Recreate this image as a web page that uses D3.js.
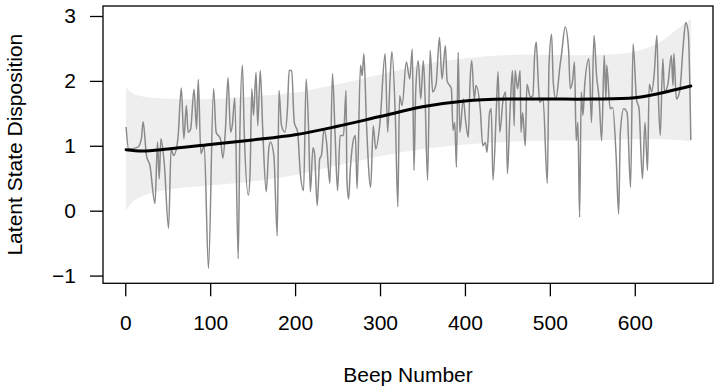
<!DOCTYPE html>
<html>
<head>
<meta charset="utf-8">
<script src="https://cdn.jsdelivr.net/npm/d3@7"></script>
<style>
  body { margin: 0; background: #fff; }
  svg { display: block; }
  text { font-family: "Liberation Sans", Arial, Helvetica, sans-serif; }
</style>
</head>
<body>
<div id="chart"></div>
<script>
// raw series (peaks and troughs of the beep series)
var beeps = [
    1, 4, 15, 19, 21, 25, 29, 35, 38, 40,
    42, 46, 51, 54, 57, 62, 66, 69, 72, 74,
    77, 81, 84, 86, 89, 93, 98, 104, 107, 112,
    115, 118, 121, 124, 126, 129, 133, 135, 138, 140,
    145, 147, 149, 151, 154, 156, 159, 162, 166, 169,
    171, 175, 179, 181, 184, 188, 191, 193, 196, 199,
    203, 206, 210, 213, 216, 218, 221, 223, 226, 229,
    231, 234, 237, 241, 244, 247, 250, 253, 257, 260,
    261, 263, 265, 269, 271, 273, 277, 279, 281, 284,
    289, 292, 295, 300, 306, 309, 312, 314, 318, 321,
    323, 326, 331, 335, 338, 340, 342, 345, 348, 351,
    353, 356, 359, 362, 366, 370, 373, 377, 379, 382,
    384, 386, 388, 390, 392, 394, 398, 401, 404, 406,
    408, 411, 413, 418, 421, 424, 426, 429, 431, 433,
    437, 439, 441, 445, 448, 450, 453, 456, 458, 459,
    462, 465, 466, 468, 471, 473, 477, 480, 482, 484,
    486, 488, 492, 497, 499, 502, 504, 507, 512, 514,
    518, 522, 524, 527, 529, 531, 533, 535, 537, 539,
    541, 546, 549, 552, 555, 558, 561, 564, 566, 567,
    571, 574, 578, 581, 583, 587, 591, 595, 598, 602,
    605, 609, 612, 615, 617, 620, 623, 626, 628, 630,
    633, 635, 639, 643, 645, 646, 649, 653, 657, 660, 663, 666
];
var states = [
    1.29, 0.95, 0.98, 1.11, 1.37, 0.85, 0.70, 0.11, 1.06, 0.49,
    1.11, 0.72, -0.27, 0.95, 0.85, 1.11, 1.89, 1.11, 1.62, 1.21,
    1.26, 1.87, 1.26, 2.02, 0.88, 1.00, -0.89, 1.88, 1.21, 1.11,
    0.81, 1.26, 2.05, 1.21, 1.31, 1.74, -0.74, 1.21, 2.24, 1.26,
    0.24, 0.59, 1.88, 1.47, 2.13, 1.31, 2.16, 1.21, 0.29, 0.95,
    1.06, 0.85, -0.39, 1.85, 1.31, 1.21, 1.57, 2.16, 2.16, 1.36,
    1.21, 0.60, 0.31, 2.03, 1.21, 0.29, 0.97, 0.87, 0.08, 0.80,
    0.85, 1.26, 1.06, 0.42, 2.11, 1.21, 0.31, 1.16, 1.16, 1.85,
    0.49, 0.18, 0.64, 1.11, 1.16, 0.34, 2.24, 2.08, 2.42, 1.36,
    0.36, 1.31, 0.95, 1.36, 2.42, 1.21, 2.08, 2.45, 1.47, 0.06,
    1.77, 1.62, 2.29, 2.03, 2.49, 0.62, 1.83, 2.31, 1.72, 2.31,
    1.77, 0.47, 2.47, 1.83, 1.95, 2.67, 2.03, 2.54, 2.00, 1.93,
    1.88, 1.24, 1.36, 0.67, 2.44, 1.21, 1.72, 1.36, 1.13, 1.98,
    2.31, 1.72, 1.93, 1.57, 1.00, 1.05, 0.90, 1.51, 1.57, 0.47,
    1.57, 2.14, 1.21, 1.72, 1.83, 0.57, 1.51, 2.16, 1.31, 2.16,
    1.88, 2.16, 1.21, 1.51, 1.00, 1.95, 1.75, 1.77, 2.39, 2.60,
    2.08, 1.67, 1.72, 0.42, 2.24, 2.72, 1.98, 1.72, 2.24, 2.44,
    2.83, 2.49, 1.88, 2.03, 2.29, 1.08, 1.36, -0.10, 1.83, 1.47,
    1.93, 2.34, 1.36, 2.70, 2.08, 1.72, 1.08, 2.39, 1.72, 2.24,
    1.57, 1.59, 0.85, -0.05, 1.21, 1.57, 1.51, 0.36, 2.57, 1.72,
    1.57, 0.49, 1.36, 0.62, 1.95, 1.83, 2.13, 2.70, 1.67, 1.16,
    2.34, 1.83, 1.95, 2.39, 1.93, 2.42, 1.72, 1.85, 2.54, 2.90, 2.74, 1.09
];

// smooth trend and its band
var trendBeeps = [1, 20, 50, 100, 150, 200, 250, 300, 350, 400, 450, 500, 550, 600, 630, 666];
var trendMean  = [0.94, 0.92, 0.95, 1.02, 1.09, 1.17, 1.30, 1.45, 1.60, 1.69, 1.72, 1.72, 1.72, 1.74, 1.81, 1.92];

var bandBeeps = [1, 10, 25, 60, 100, 150, 200, 250, 300, 350, 400, 450, 500, 550, 600, 630, 650, 666];
var bandUpper = [1.90, 1.80, 1.75, 1.72, 1.72, 1.76, 1.82, 1.95, 2.10, 2.25, 2.35, 2.40, 2.40, 2.40, 2.45, 2.60, 2.80, 2.95];
var bandLower = [0.00, 0.15, 0.25, 0.34, 0.39, 0.45, 0.55, 0.70, 0.84, 0.95, 1.02, 1.06, 1.08, 1.08, 1.10, 1.10, 1.09, 1.07];

var xTicks = [0, 100, 200, 300, 400, 500, 600];
var yTicks = [-1, 0, 1, 2, 3];

var width = 720, height = 391;
var box = {left: 103, right: 713, top: 6, bottom: 283.3};
var fontSize = 21;

var svg = d3.select("#chart").append("svg")
    .attr("width", width)
    .attr("height", height);

var x = d3.scaleLinear()
    .domain([-26.2, 692.1])
    .range([box.left, box.right]);

var y = d3.scaleLinear()
    .domain([-1.119, 3.154])
    .range([box.bottom, box.top]);

var series = beeps.map(function(b, i){ return [b, states[i]]; });
var band = bandBeeps.map(function(b, i){ return {b: b, lo: bandLower[i], hi: bandUpper[i]}; });
var trend = trendBeeps.map(function(b, i){ return [b, trendMean[i]]; });

// band
svg.append("path")
    .datum(band)
    .attr("fill", "#eeeeee")
    .attr("d", d3.area()
        .curve(d3.curveCatmullRom)
        .x(function(d){ return x(d.b); })
        .y0(function(d){ return y(d.lo); })
        .y1(function(d){ return y(d.hi); }));

// raw line
svg.append("path")
    .datum(series)
    .attr("fill", "none")
    .attr("stroke", "#8a8a8a")
    .attr("stroke-width", 1.5)
    .attr("stroke-linejoin", "round")
    .attr("d", d3.line()
        .curve(d3.curveMonotoneX)
        .x(function(d){ return x(d[0]); })
        .y(function(d){ return y(d[1]); }));

// trend
svg.append("path")
    .datum(trend)
    .attr("fill", "none")
    .attr("stroke", "#000")
    .attr("stroke-width", 3)
    .attr("stroke-linecap", "round")
    .attr("d", d3.line()
        .curve(d3.curveCatmullRom)
        .x(function(d){ return x(d[0]); })
        .y(function(d){ return y(d[1]); }));

// axes, R style: ticks outside, no extra domain line
var xAxis = svg.append("g")
    .attr("transform", "translate(0," + box.bottom + ")")
    .call(d3.axisBottom(x).tickValues(xTicks).tickSize(13).tickPadding(19).tickFormat(d3.format("d")));

var yAxis = svg.append("g")
    .attr("transform", "translate(" + box.left + ",0)")
    .call(d3.axisLeft(y).tickValues(yTicks).tickSize(13).tickPadding(14).tickFormat(d3.format("d")));

[xAxis, yAxis].forEach(function(g){
    g.select(".domain").remove();
    g.selectAll(".tick line").attr("stroke", "#000").attr("stroke-width", 1.3);
    g.selectAll(".tick text")
        .attr("fill", "#000")
        .style("font-size", fontSize + "px")
        .style("font-family", "'Liberation Sans', Arial, sans-serif");
});

// box
svg.append("rect")
    .attr("x", box.left)
    .attr("y", box.top)
    .attr("width", box.right - box.left)
    .attr("height", box.bottom - box.top)
    .attr("fill", "none")
    .attr("stroke", "#000")
    .attr("stroke-width", 1.3);

svg.append("text")
    .attr("x", (box.left + box.right) / 2)
    .attr("y", 382)
    .attr("text-anchor", "middle")
    .style("font-size", fontSize + "px")
    .text("Beep Number");

svg.append("text")
    .attr("transform", "translate(22," + ((box.top + box.bottom) / 2) + ") rotate(-90)")
    .attr("text-anchor", "middle")
    .style("font-size", fontSize + "px")
    .text("Latent State Disposition");
</script>
</body>
</html>
